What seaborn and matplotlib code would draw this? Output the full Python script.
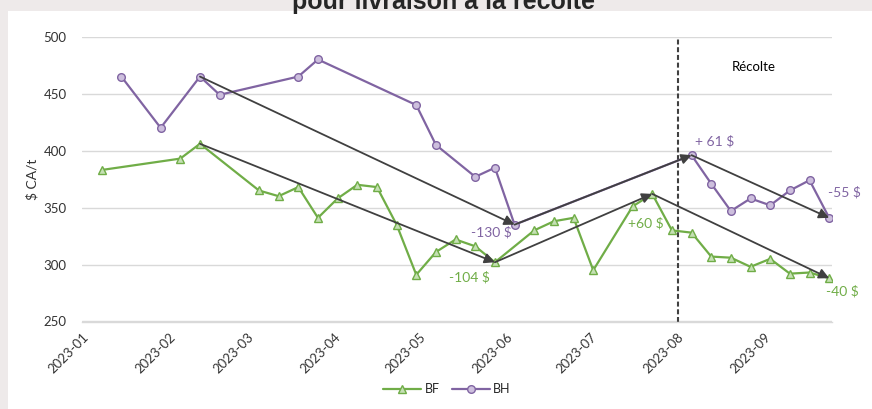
import matplotlib
matplotlib.use("Agg")
import matplotlib.pyplot as plt
import matplotlib.dates as mdates
from matplotlib.patches import Rectangle
import pandas as pd
import seaborn as sns

# Weekly cash prices, $ CA/t
bf_dates = ["2023-01-08", "2023-02-05", "2023-02-12", "2023-03-05", "2023-03-12",
            "2023-03-19", "2023-03-26", "2023-04-02", "2023-04-09", "2023-04-16",
            "2023-04-23", "2023-04-30", "2023-05-07", "2023-05-14", "2023-05-21",
            "2023-05-28", "2023-06-11", "2023-06-18", "2023-06-25", "2023-07-02",
            "2023-07-16", "2023-07-23", "2023-07-30", "2023-08-06", "2023-08-13",
            "2023-08-20", "2023-08-27", "2023-09-03", "2023-09-10", "2023-09-17",
            "2023-09-24"]
bf_values = [383, 393, 406, 365, 360, 368, 341, 358, 370, 368, 335, 291, 311, 322,
             316, 302, 330, 338, 341, 295, 351, 362, 330, 328, 307, 306, 298, 305,
             292, 293, 288]

bh_dates = ["2023-01-15", "2023-01-29", "2023-02-12", "2023-02-19", "2023-03-19",
            "2023-03-26", "2023-04-30", "2023-05-07", "2023-05-21", "2023-05-28",
            "2023-06-04", "2023-08-06", "2023-08-13", "2023-08-20", "2023-08-27",
            "2023-09-03", "2023-09-10", "2023-09-17", "2023-09-24"]
bh_values = [465, 420, 465, 449, 465, 480, 440, 405, 377, 385, 335, 396, 371, 347,
             358, 352, 365, 374, 341]

# Trend arrows (start, end) and their change labels
bf_arrows = [("2023-02-12", "2023-05-28"), ("2023-05-28", "2023-07-23"),
             ("2023-07-23", "2023-09-24")]
bh_arrows = [("2023-02-12", "2023-06-04"), ("2023-06-04", "2023-08-06"),
             ("2023-08-06", "2023-09-24")]
bf_labels = [("2023-05-28", "-104 $"), ("2023-07-23", "+60 $"), ("2023-09-24", "-40 $")]
bh_labels = [("2023-06-04", "-130 $"), ("2023-08-06", "+ 61 $"), ("2023-09-24", "-55 $")]

harvest_date = "2023-08-01"
harvest_label = "Récolte"
title_text = "pour livraison à la récolte"
y_label = "$ CA/t"

GREEN = "#70AD47"
PURPLE = "#8064A2"
DARK = "#404040"

sns.set_theme(style="white")
plt.rcParams["font.family"] = ["Lato", "DejaVu Sans"]

bf = pd.DataFrame({"date": pd.to_datetime(bf_dates), "prix": bf_values})
bh = pd.DataFrame({"date": pd.to_datetime(bh_dates), "prix": bh_values})

fig = plt.figure(figsize=(8.72, 4.09), dpi=100)
fig.patch.set_facecolor("#EEEAEA")
fig.add_artist(Rectangle((8 / 872, 0), 1, 1 - 11 / 409, transform=fig.transFigure,
                         facecolor="white", edgecolor="none", zorder=-5))

ax = fig.add_axes([82 / 872, 1 - 321.5 / 409, 750 / 872, (321.5 - 36.7) / 409])
ax.set_facecolor("none")

sns.lineplot(data=bf, x="date", y="prix", ax=ax, color=GREEN, lw=1.6,
             marker="^", markersize=6, markerfacecolor="#C5E0B4",
             markeredgecolor=GREEN, markeredgewidth=1, label="BF", legend=False, zorder=3)
sns.lineplot(data=bh, x="date", y="prix", ax=ax, color=PURPLE, lw=1.6,
             marker="o", markersize=5.5, markerfacecolor="#CDBFDD",
             markeredgecolor=PURPLE, markeredgewidth=1, label="BH", legend=False, zorder=3)


def value_at(df, d):
    return df.loc[df["date"] == pd.Timestamp(d), "prix"].iloc[0]


for df, pairs in ((bf, bf_arrows), (bh, bh_arrows)):
    for a, b in pairs:
        ax.annotate("", xy=(pd.Timestamp(b), value_at(df, b)),
                    xytext=(pd.Timestamp(a), value_at(df, a)),
                    arrowprops=dict(arrowstyle="-|>,head_length=0.6,head_width=0.3",
                                    color=DARK, lw=1.3, mutation_scale=10,
                                    shrinkA=0, shrinkB=0), zorder=4)

label_offsets = {"-104 $": (-25, -15), "+60 $": (-6, -29), "-40 $": (13, -13),
                 "-130 $": (-23, -8), "+ 61 $": (23, 14), "-55 $": (15, 26)}
for df, labels, col in ((bf, bf_labels, GREEN), (bh, bh_labels, PURPLE)):
    for d, txt in labels:
        ax.annotate(txt, xy=(pd.Timestamp(d), value_at(df, d)),
                    xytext=label_offsets[txt], textcoords="offset pixels",
                    ha="center", va="center", color=col, fontsize=10, zorder=5)

ax.axvline(pd.Timestamp(harvest_date), color=DARK, lw=1.5,
           linestyle=(0, (2.4, 1.3)), zorder=2)
ax.text(0.896, 0.893, harvest_label, transform=ax.transAxes, ha="center",
        va="center", fontsize=9.5, color="black")

ax.set_ylim(250, 500)
ax.set_yticks(range(250, 501, 50))
ax.set_xlim(pd.Timestamp("2023-01-01"), pd.Timestamp("2023-09-25"))
ax.xaxis.set_major_locator(mdates.MonthLocator())
ax.xaxis.set_major_formatter(mdates.DateFormatter("%Y-%m"))

ax.yaxis.grid(True, color="#D9D9D9", lw=1)
ax.set_axisbelow(True)
for s in ("left", "right", "top"):
    ax.spines[s].set_visible(False)
ax.spines["bottom"].set_color("#D9D9D9")
ax.spines["bottom"].set_linewidth(1)

ax.tick_params(axis="y", length=0, pad=11, labelsize=9.5, labelcolor="#333333")
ax.tick_params(axis="x", length=5, width=1, color="#D9D9D9", direction="out",
               labelsize=9.5, labelcolor="#333333", pad=2)
for lab in ax.get_xticklabels():
    lab.set_rotation(45)
    lab.set_ha("right")
    lab.set_rotation_mode("anchor")

ax.set_xlabel("")
ax.set_ylabel(y_label, fontsize=10, color="#333333", labelpad=4)

handles, labels = ax.get_legend_handles_labels()
fig.legend(handles, labels, loc="center", bbox_to_anchor=(447 / 872, 1 - 389 / 409),
           ncol=2, frameon=False, fontsize=9, handlelength=3, columnspacing=1.0,
           handletextpad=0.3)

fig.text(443 / 872, 1 - 9 / 409, title_text, ha="center", va="baseline",
         fontsize=18, fontweight="bold", family=["Liberation Sans", "DejaVu Sans"])

fig.savefig("out.png", dpi=100, facecolor=fig.get_facecolor())
